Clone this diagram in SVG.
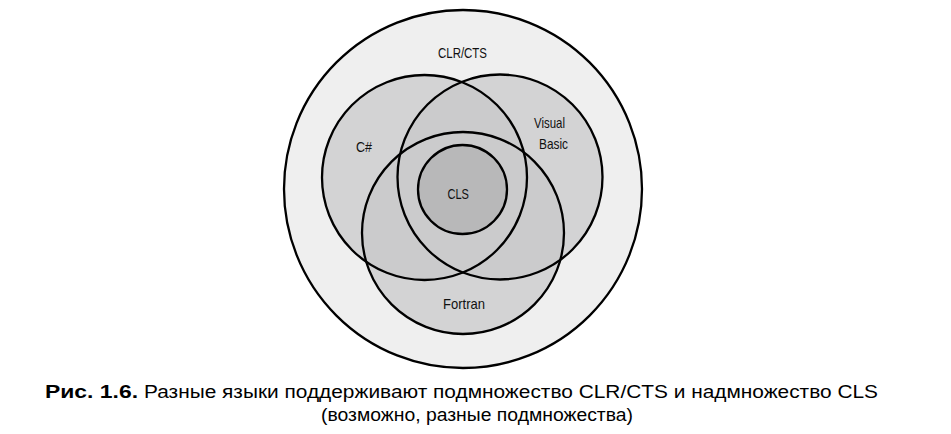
<svg xmlns="http://www.w3.org/2000/svg" width="951" height="434" viewBox="0 0 951 434">
<style>
.ol{fill:none;stroke:#000;stroke-width:2.3}
.lab{font-family:"Liberation Sans",Arial,sans-serif;font-size:14.5px;fill:#111}
.cap{font-family:"Liberation Sans",Arial,sans-serif;font-size:17.5px;fill:#000}
</style>
<rect width="951" height="434" fill="#fff"/>
<g id="clr-cts">
<circle cx="463" cy="189" r="179" fill="#efefef"/>
</g>
<g id="csharp">
<circle cx="424.5" cy="177.5" r="102.5" fill="#d3d3d4"/>
</g>
<g id="vb">
<circle cx="500" cy="177" r="102.5" fill="#d3d3d4"/>
</g>
<g id="fortran">
<circle cx="463" cy="233" r="101" fill="#d3d3d4"/>
</g>
<g id="overlaps" fill="#cbcbcc">
<clipPath id="cC"><circle cx="424.5" cy="177.5" r="102.5"/></clipPath>
<clipPath id="cV"><circle cx="500" cy="177" r="102.5"/></clipPath>
<circle cx="463" cy="233" r="101" clip-path="url(#cC)"/>
<circle cx="463" cy="233" r="101" clip-path="url(#cV)"/>
<circle cx="500" cy="177" r="102.5" clip-path="url(#cC)"/>
</g>
<g id="cls">
<circle cx="462.5" cy="189.5" r="44.5" fill="#b8b8b9"/>
</g>
<g id="outlines">
<circle class="ol" cx="463" cy="189" r="179"/>
<circle class="ol" cx="424.5" cy="177.5" r="102.5"/>
<circle class="ol" cx="500" cy="177" r="102.5"/>
<circle class="ol" cx="463" cy="233" r="101"/>
<circle class="ol" cx="462.5" cy="189.5" r="44.5"/>
</g>
<g id="labels">
<text class="lab" x="438" y="58" textLength="49" lengthAdjust="spacingAndGlyphs">CLR/CTS</text>
<text class="lab" x="356" y="151.5" textLength="16" lengthAdjust="spacingAndGlyphs">C#</text>
<text class="lab" x="534" y="128" textLength="31" lengthAdjust="spacingAndGlyphs">Visual</text>
<text class="lab" x="539" y="149" textLength="29" lengthAdjust="spacingAndGlyphs">Basic</text>
<text class="lab" x="447.5" y="199" textLength="21.5" lengthAdjust="spacingAndGlyphs">CLS</text>
<text class="lab" x="443" y="309" textLength="42" lengthAdjust="spacingAndGlyphs">Fortran</text>
</g>
<g id="caption">
<text class="cap" x="45" y="398" font-weight="bold" textLength="93" lengthAdjust="spacingAndGlyphs">Рис. 1.6.</text>
<text class="cap" x="144" y="398" textLength="734" lengthAdjust="spacingAndGlyphs">Разные языки поддерживают подмножество CLR/CTS и надмножество CLS</text>
<text class="cap" x="321" y="420.5" textLength="312" lengthAdjust="spacingAndGlyphs">(возможно, разные подмножества)</text>
</g>
</svg>
